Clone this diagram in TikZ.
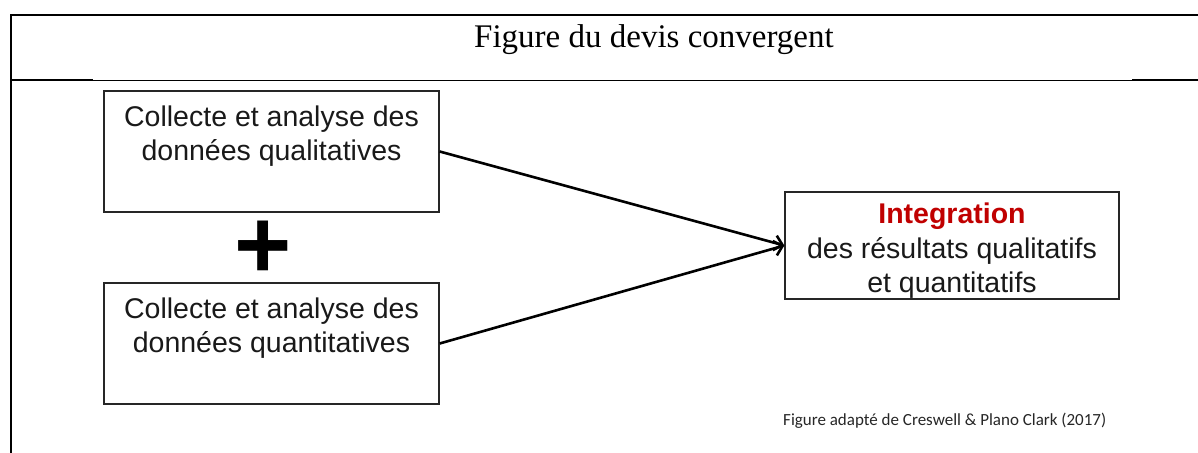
\documentclass[tikz,border=0pt]{standalone}
\usepackage{fontspec}
\setmainfont{Liberation Sans}
\newfontfamily\headfont{Liberation Serif}
\newfontfamily\notefont{Carlito}
\usetikzlibrary{arrows.meta}
\definecolor{intred}{HTML}{C00000}
\definecolor{boxline}{HTML}{262626}
\begin{document}
\begin{tikzpicture}[x=1pt,y=-1pt,
  framethick/.style={line width=2pt, line cap=rect},
  framethin/.style={line width=0.9pt},
  databox/.style={draw=boxline, line width=1.3pt, minimum width=335pt, minimum height=121pt, inner sep=0pt},
  boxtext/.style={inner sep=0pt, align=center, font=\fontsize{28.5}{34.5}\selectfont, text=black!90},
  intbox/.style={draw=boxline, line width=1.3pt, minimum width=334pt, minimum height=107pt, inner sep=0pt, align=center, font=\fontsize{28.5}{34.5}\selectfont, text=black!90},
  conn/.style={line width=2.6pt, -{Straight Barb[length=8pt,width=15pt]}}
]
\useasboundingbox (0,0) rectangle (1198,452);
% frame
\draw[framethick] (11,15) -- (1198,15);
\draw[framethick] (11,15) -- (11,452);
\draw[framethick] (11,80) -- (92,80);
\draw[framethin] (92,80) -- (1133,80);
\draw[framethick] (1133,80) -- (1198,80);
% header
\node[inner sep=0pt, font=\headfont\fontsize{33}{36}\selectfont] (title) at (654,40) {Figure du devis convergent};
% boxes
\node[databox] (qual) at (271.5,151.5) {};
\node[boxtext, anchor=north] (qualt) at ([yshift=-15pt]qual.north) {Collecte et analyse des\\données qualitatives};
\node[databox] (quan) at (271.5,343.5) {};
\node[boxtext, anchor=north] (quant) at ([yshift=-15pt]quan.north) {Collecte et analyse des\\données quantitatives};
\node[inner sep=0pt, font=\fontsize{98}{98}\selectfont\bfseries] (plus) at (263,250) {+};
\node[intbox] (integ) at (952,245.5) {\rule{0pt}{31pt}{\bfseries\color{intred}Integration}\\des résultats qualitatifs\\et quantitatifs};
% connectors
\draw[conn] (qual.east) -- (integ.west);
\draw[conn] (quan.east) -- (integ.west);
% note
\node[inner sep=0pt, anchor=west, font=\notefont\fontsize{17}{20}\selectfont, text=black!85] (note) at (783,421) {Figure adapté de Creswell \& Plano Clark (2017)};
\end{tikzpicture}
\end{document}
